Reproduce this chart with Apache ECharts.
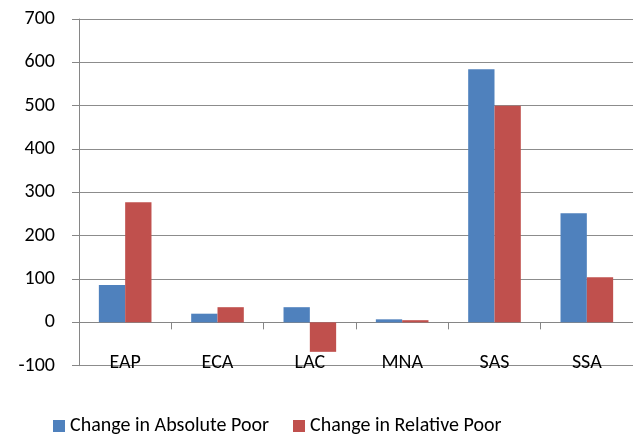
<!DOCTYPE html>
<html><head><meta charset="utf-8">
<script src="https://cdn.jsdelivr.net/npm/echarts@6/dist/echarts.min.js"></script>
<style>html,body{margin:0;padding:0;background:#fff}#c{width:633px;height:440px}</style>
</head><body><div id="c"></div>
<script>
const categories = ['EAP','ECA','LAC','MNA','SAS','SSA'];
const absolutePoor = [86, 20, 35, 7, 584, 252];
const relativePoor = [277, 35, -68, 5, 500, 104];
const seriesNames = ['Change in Absolute Poor','Change in Relative Poor'];

const chart = echarts.init(document.getElementById('c'), null, {renderer:'canvas'});
const font = 'Carlito, Lato, sans-serif';
chart.setOption({
  animation:false,
  textStyle:{fontFamily:font},
  grid:{left:79, top:19, width:559, height:346.7, containLabel:false},
  legend:{
    data:seriesNames, left:53, top:416, padding:0, icon:'rect', itemWidth:12, itemHeight:12, itemGap:24,
    textStyle:{fontFamily:font, fontSize:20, color:'#000'}
  },
  xAxis:{
    type:'category', data:categories,
    axisLine:{onZero:true, lineStyle:{color:'#868686', width:1}},
    axisTick:{show:true, length:7, inside:false, lineStyle:{color:'#868686'}},
    axisLabel:{margin:-13, fontSize:20, color:'#000', fontFamily:font},
    splitLine:{show:false}
  },
  yAxis:{
    type:'value', min:-100, max:700, interval:100,
    axisLine:{show:true, lineStyle:{color:'#868686'}},
    axisTick:{show:true, length:7, lineStyle:{color:'#868686'}},
    axisLabel:{margin:24, fontSize:20, color:'#000', fontFamily:font},
    splitLine:{show:true, lineStyle:{color:'#8c8c8c', width:1}}
  },
  series:[
    {name:seriesNames[0], type:'bar', data:absolutePoor, barGap:'0%', barCategoryGap:'43%', itemStyle:{color:'#4F81BD'}},
    {name:seriesNames[1], type:'bar', data:relativePoor, barGap:'0%', barCategoryGap:'43%', itemStyle:{color:'#C0504D'}}
  ]
});
</script></body></html>
